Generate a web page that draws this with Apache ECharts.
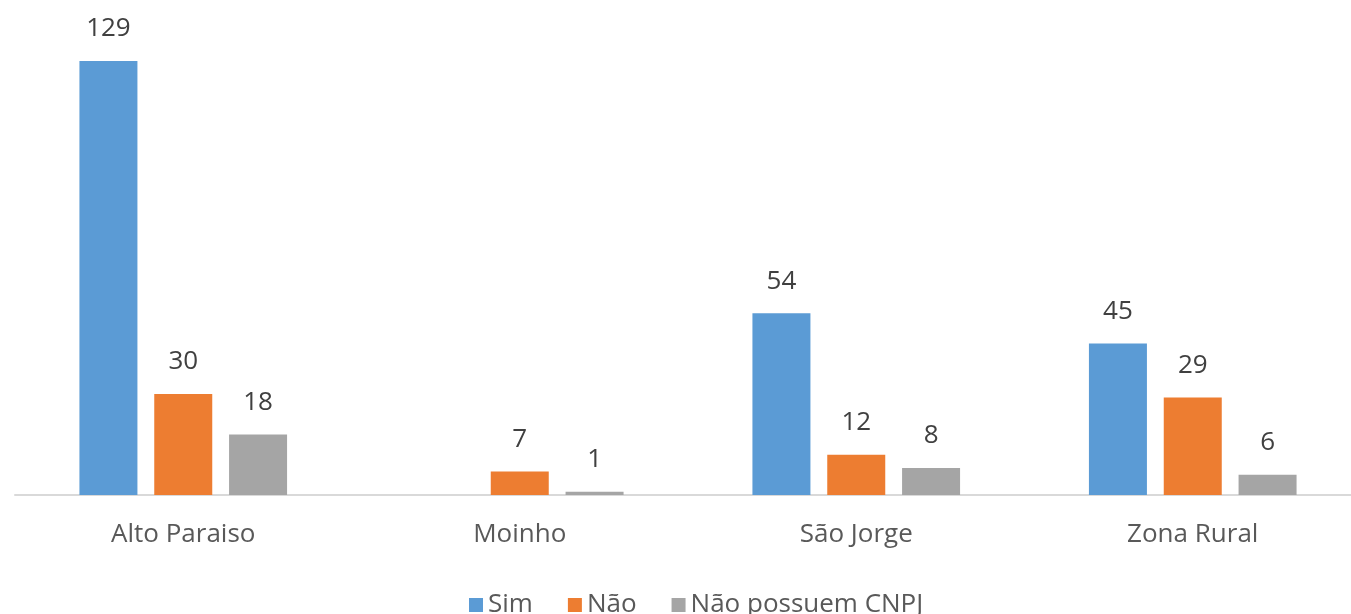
<!DOCTYPE html>
<html><head><meta charset="utf-8">
<script src="https://cdn.jsdelivr.net/npm/echarts@6/dist/echarts.min.js"></script>
<style>html,body{margin:0;padding:0;background:#fff}#c{width:1351px;height:614px}</style>
</head><body><div id="c"></div>
<script>
const categories = ['Alto Paraiso', 'Moinho', 'São Jorge', 'Zona Rural'];
const seriesNames = ['Sim', 'Não', 'Não possuem CNPJ'];
const sim = [129, null, 54, 45];
const nao = [30, 7, 12, 29];
const semCnpj = [18, 1, 8, 6];
const colors = ['#5B9BD5', '#ED7D31', '#A5A5A5'];
const font = '"Open Sans", "Noto Sans", sans-serif';

const chart = echarts.init(document.getElementById('c'), null, {renderer: 'canvas'});
const mk = (name, data, color) => ({
  name, type: 'bar', data, barWidth: 58, barGap: '29%',
  itemStyle: {color},
  label: {show: true, position: 'top', distance: 19, color: '#404040', fontSize: 26, fontFamily: font,
          formatter: p => (p.value == null ? '' : p.value)}
});
chart.setOption({
  animation: false,
  color: colors,
  grid: {left: 15, width: 1346, top: 24, bottom: 119, outerBoundsMode: 'none', containLabel: false},
  legend: {
    data: seriesNames, bottom: -9, left: 464, itemWidth: 14, itemHeight: 14, itemGap: 35,
    icon: 'rect', textStyle: {color: '#595959', fontSize: 26, fontFamily: font}
  },
  xAxis: {
    type: 'category', data: categories,
    axisLine: {lineStyle: {color: '#D9D9D9', width: 2}},
    axisTick: {show: false},
    axisLabel: {color: '#595959', fontSize: 26, fontFamily: font, margin: 27}
  },
  yAxis: {type: 'value', min: 0, max: 140, show: false, splitLine: {show: false}},
  series: [mk(seriesNames[0], sim, colors[0]), mk(seriesNames[1], nao, colors[1]), mk(seriesNames[2], semCnpj, colors[2])]
});
</script></body></html>
